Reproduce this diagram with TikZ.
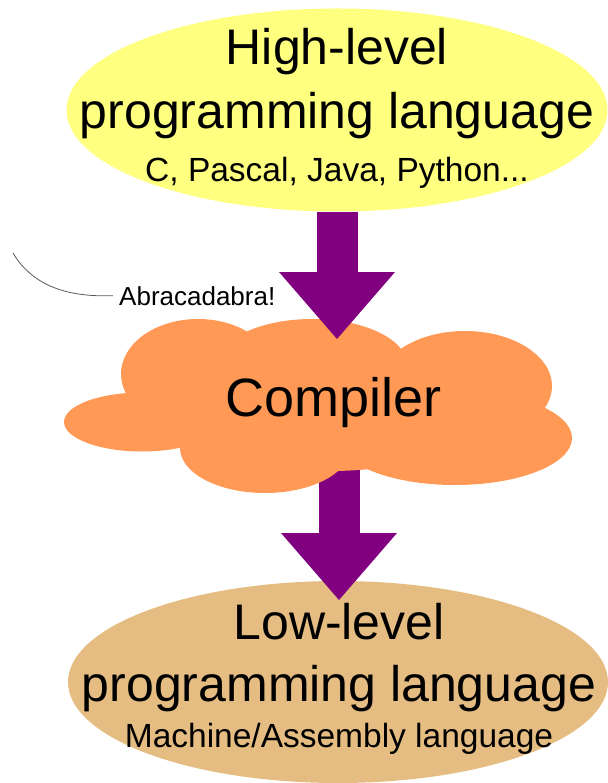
\documentclass[tikz,border=0pt]{standalone}
\usepackage{fontspec}
\setmainfont{Liberation Sans}
\usetikzlibrary{shapes.geometric,arrows.meta}
\definecolor{hlyellow}{HTML}{FFFF80}
\definecolor{cloudorange}{HTML}{FF9955}
\definecolor{lltan}{HTML}{E5BD82}
\definecolor{arrowpurple}{HTML}{800080}
\begin{document}
\begin{tikzpicture}[x=1pt,y=-1pt,
  blob/.style={ellipse, inner sep=0pt, draw=none},
  bigtext/.style={anchor=base, inner sep=0pt, font=\fontsize{50}{60}\selectfont},
  smalltext/.style={anchor=base, inner sep=0pt, font=\fontsize{33.5}{40}\selectfont},
  blockarrow/.style={draw=arrowpurple, line width=41pt,
    -{Triangle[length=67pt,width=116pt,line width=0pt]}},
  lobe/.style={fill=cloudorange}]
\useasboundingbox (0,0) rectangle (607,783);
% ellipses
\node[blob, fill=hlyellow, minimum width=541pt, minimum height=203pt] (hl) at (337,110) {};
\node[blob, fill=lltan, minimum width=540pt, minimum height=202pt] (ll) at (338,682) {};
% lower arrow (behind the cloud)
\coordinate (src2) at (339,440);
\coordinate (tip2) at (339,600);
\draw[blockarrow] (src2) -- (tip2);
% cloud
\fill[lobe] (142,422) ellipse [x radius=78, y radius=29.5];
\fill[lobe] (198,374) ellipse [x radius=77, y radius=55];
\fill[lobe] (312,365) ellipse [x radius=95, y radius=46];
\fill[lobe] (465,386) ellipse [x radius=87, y radius=55];
\fill[lobe] (455,438) ellipse [x radius=117, y radius=47];
\fill[lobe] (265,448) ellipse [x radius=85, y radius=45];
\fill[lobe] (330,415) ellipse [x radius=150, y radius=56];
\node[bigtext, font=\fontsize{54}{60}\selectfont] (cmp) at (334,416) {Compiler};
% upper arrow (over the cloud)
\coordinate (tip1) at (337,339);
\draw[blockarrow] (hl.south) -- (tip1);
% texts
\node[bigtext] (hl1) at (337,65) {High-level};
\node[bigtext] (hl2) at (337,129) {programming language};
\node[smalltext] (hl3) at (337,182) {C, Pascal, Java, Python...};
\node[bigtext] (ll1) at (339,639) {Low-level};
\node[bigtext] (ll2) at (339,701) {programming language};
\node[smalltext] (ll3) at (339,747) {Machine/Assembly language};
% remark
\node[anchor=base west, inner xsep=6pt, inner ysep=0pt, font=\fontsize{26}{30}\selectfont] (abra) at (113,305) {Abracadabra!};
\coordinate (tail) at (13,253);
\draw[black!65, line width=0.8pt] (tail) .. controls (35,290) and (75,297) .. (abra.west);
\end{tikzpicture}
\end{document}
